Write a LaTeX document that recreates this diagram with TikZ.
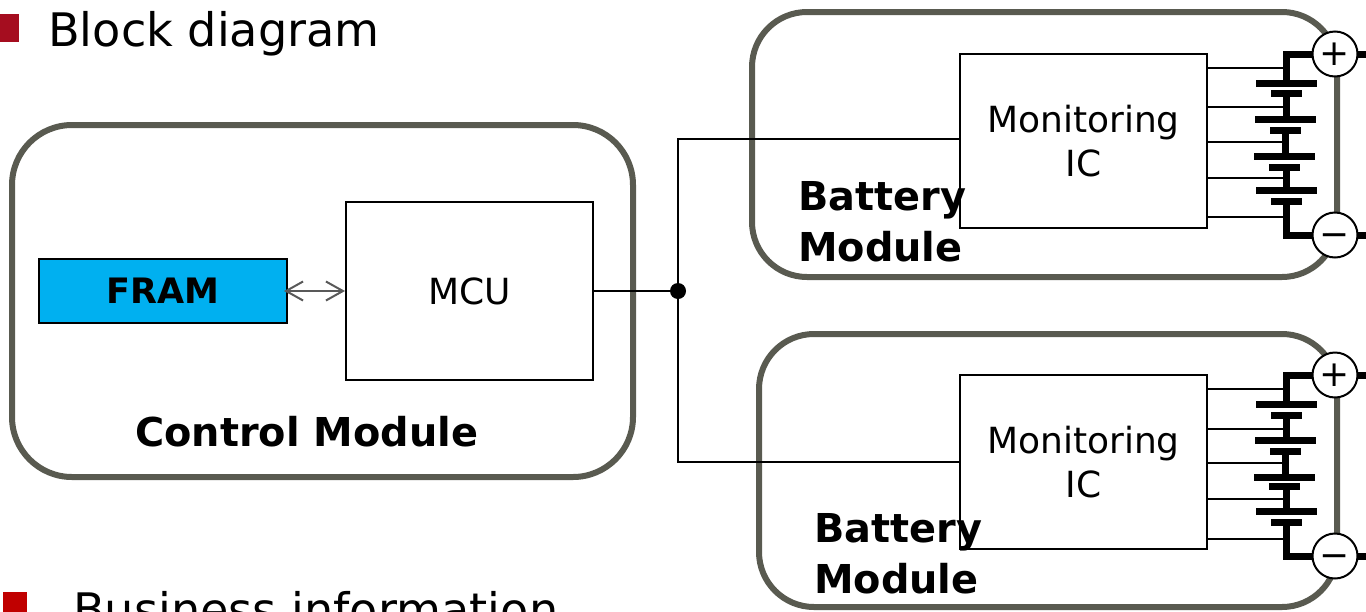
\documentclass[tikz,border=0pt]{standalone}
\usepackage{fontspec}
\setmainfont{DejaVu Sans}
\usetikzlibrary{arrows.meta}

\begin{document}
\begin{tikzpicture}[x=1pt, y=-1pt,
  module/.style={draw=modgray, line width=6pt, rounded corners=55pt, inner sep=0pt, outer sep=0pt},
  block/.style={draw=black, line width=2pt, fill=white, inner sep=0pt, outer sep=0pt, font=\fontsize{36}{44}\selectfont, align=center},
  bullet/.style={inner sep=0pt, outer sep=0pt},
  heading/.style={anchor=base west, inner sep=0pt, font=\fontsize{46.2}{55}\selectfont},
  title/.style={anchor=base west, inner sep=0pt, align=left, font=\fontsize{39.8}{51}\selectfont\bfseries},
  wire/.style={draw=black, line width=2pt},
  busbar/.style={draw=black, line width=7pt},
  longplate/.style={fill=black, inner sep=0pt, outer sep=0pt, minimum width=61pt, minimum height=7pt},
  shortplate/.style={fill=black, inner sep=0pt, outer sep=0pt, minimum width=31pt, minimum height=7pt},
  terminal/.style={circle, draw=black, line width=2pt, fill=white, inner sep=0pt, outer sep=0pt, minimum size=45pt, text height=22.6pt, text depth=0pt, font=\fontsize{36}{36}\selectfont},
  bidir/.style={draw=arrowgray, line width=2pt, {Straight Barb[length=17pt,width=19pt]}-{Straight Barb[length=17pt,width=19pt]}}
]
\definecolor{modgray}{HTML}{595A50}
\definecolor{arrowgray}{HTML}{595959}
\definecolor{framblue}{HTML}{00B0F0}
\definecolor{topred}{HTML}{A50D1F}
\definecolor{lowred}{HTML}{C00000}

\useasboundingbox (0,0) rectangle (1366,611);

\node[bullet, fill=topred, minimum width=19pt, minimum height=28pt] (TopMark) at (9.5,28) {};
\node[heading] (TopHead) at (48,46) {Block diagram};
\node[bullet, fill=lowred, minimum width=24pt, minimum height=28pt] (LowMark) at (15,606) {};
\node[heading] (LowHead) at (73,626) {Business information};

\node[module, rounded corners=60pt, minimum width=621pt, minimum height=352pt] (CtrlMod) at (322.5,301) {};
\node[module, minimum width=585pt, minimum height=265pt] (1Mod) at (1044.5,144.5) {};
\node[module, minimum width=578pt, minimum height=273pt] (2Mod) at (1048,470.5) {};

\node[block, fill=framblue, minimum width=248pt, minimum height=64pt, font=\fontsize{35}{42}\selectfont\bfseries] (FRAM) at (163,291) {FRAM};
\node[block, minimum width=247pt, minimum height=178pt] (MCU) at (469.5,291) {MCU};
\node[block, minimum width=247pt, minimum height=174pt] (1IC) at (1083.5,141) {Monitoring\\IC};
\node[block, minimum width=247pt, minimum height=174pt] (2IC) at (1083.5,462) {Monitoring\\IC};

\node[circle, fill=black, inner sep=0pt, minimum size=16pt] (Dot) at (678,291) {};

\path[bidir] ([xshift=-3pt]FRAM.east) -- ([xshift=-1pt]MCU.west);
\path[wire] (MCU.east) -- (Dot);
\path[wire] (Dot) |- ([yshift=2pt]1IC.west);
\path[wire] (Dot) |- (2IC.west);

\node[longplate]  (1L1) at (1286.5,83)  {};
\node[shortplate] (1S1) at (1286.5,93)  {};
\node[longplate]  (1L2) at (1285.5,119) {};
\node[shortplate] (1S2) at (1285.5,130) {};
\node[longplate]  (1L3) at (1284.5,156) {};
\node[shortplate] (1S3) at (1284.5,167) {};
\node[longplate]  (1L4) at (1286.5,190) {};
\node[shortplate] (1S4) at (1286.5,201) {};

\node[longplate]  (2L1) at (1286.5,404) {};
\node[shortplate] (2S1) at (1286.5,415) {};
\node[longplate]  (2L2) at (1285.5,440) {};
\node[shortplate] (2S2) at (1285.5,451) {};
\node[longplate]  (2L3) at (1284.5,477) {};
\node[shortplate] (2S3) at (1284.5,486) {};
\node[longplate]  (2L4) at (1286.5,511) {};
\node[shortplate] (2S4) at (1286.5,522) {};

\coordinate (1T1) at (1284,68);
\coordinate (1T2) at (1284,107);
\coordinate (1T3) at (1284,142);
\coordinate (1T4) at (1284,178);
\coordinate (1T5) at (1284,217);
\coordinate (2T1) at (1284,389);
\coordinate (2T2) at (1284,429);
\coordinate (2T3) at (1284,463);
\coordinate (2T4) at (1284,499);
\coordinate (2T5) at (1284,539);

\path[wire] (1IC.east |- 1T1) -- (1T1);
\path[wire] (1IC.east |- 1T2) -- (1T2);
\path[wire] (1IC.east |- 1T3) -- (1T3);
\path[wire] (1IC.east |- 1T4) -- (1T4);
\path[wire] (1IC.east |- 1T5) -- (1T5);
\path[wire] (2IC.east |- 2T1) -- (2T1);
\path[wire] (2IC.east |- 2T2) -- (2T2);
\path[wire] (2IC.east |- 2T3) -- (2T3);
\path[wire] (2IC.east |- 2T4) -- (2T4);
\path[wire] (2IC.east |- 2T5) -- (2T5);

\node[terminal] (1Plus)  at (1335,54)  {+};
\node[terminal] (1Minus) at (1335,235) {−};
\node[terminal] (2Plus)  at (1335,375) {+};
\node[terminal] (2Minus) at (1335,556) {−};

\coordinate (1PlusOut)  at (1366,54);
\coordinate (1MinusOut) at (1366,235);
\coordinate (2PlusOut)  at (1366,375);
\coordinate (2MinusOut) at (1366,556);

\path[busbar] (1Plus) -| (1L1);
\path[busbar] (1S1) -- (1S1 |- 1L2);
\path[busbar] (1S2) -- (1S2 |- 1L3);
\path[busbar] (1L4 |- 1S3) -- (1L4);
\path[busbar] (1Minus) -| (1S4);
\path[busbar] (1Plus) -- (1PlusOut);
\path[busbar] (1Minus) -- (1MinusOut);

\path[busbar] (2Plus) -| (2L1);
\path[busbar] (2S1) -- (2S1 |- 2L2);
\path[busbar] (2S2) -- (2S2 |- 2L3);
\path[busbar] (2L4 |- 2S3) -- (2L4);
\path[busbar] (2Minus) -| (2S4);
\path[busbar] (2Plus) -- (2PlusOut);
\path[busbar] (2Minus) -- (2MinusOut);

\node[title] (CtrlTitle) at (135,446) {Control Module};
\node[title] (1Title) at (798,261) {Battery\\Module};
\node[title] (2Title) at (814,593) {Battery\\Module};

\end{tikzpicture}
\end{document}
